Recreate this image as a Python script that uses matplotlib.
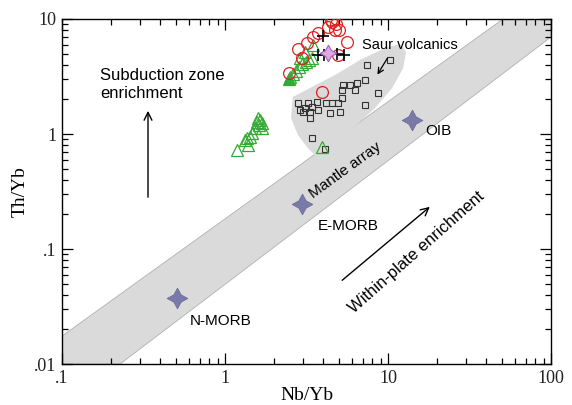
import matplotlib
matplotlib.use("Agg")
import matplotlib.pyplot as plt
from matplotlib.patches import Polygon

# ---------------- data (Nb/Yb, Th/Yb) ----------------
circle_nb = [4.53, 4.80, 4.29, 5.00, 3.72, 3.47, 3.18, 5.60, 2.80, 2.97, 2.47, 3.94, 4.94, 4.47, 4.73]
circle_th = [9.42, 9.05, 8.52, 8.02, 7.55, 6.97, 6.18, 6.31, 5.48, 4.58, 3.39, 2.32, 4.86, 9.80, 8.02]

tri_nb = [1.19, 1.33, 1.38, 1.42, 1.47, 1.53, 1.57, 1.59, 1.62, 1.64, 1.69, 1.69, 1.36,
          2.50, 2.61, 2.73, 2.84, 2.97, 3.14, 3.28, 2.88, 3.42, 3.10, 3.47, 3.94]
tri_th = [0.73, 0.89, 0.80, 0.94, 1.02, 1.13, 1.27, 1.38, 1.20, 1.32, 1.25, 1.13, 0.92,
          3.13, 3.32, 3.53, 3.83, 4.06, 4.23, 4.40, 4.58, 4.58, 5.16, 5.94, 0.77]
tri_fill_nb = [2.47]
tri_fill_th = [3.01]

sq_nb = [7.43, 10.3, 5.30, 5.85, 6.46, 7.23, 5.22, 6.28, 8.69, 7.23, 2.80, 3.23, 3.67, 4.17,
         4.53, 4.94, 5.22, 3.10, 3.42, 3.01, 3.32, 4.41, 5.08, 3.32, 3.42, 4.11, 2.88, 3.72]
sq_th = [3.98, 4.40, 2.67, 2.67, 2.78, 2.95, 2.41, 2.41, 2.27, 1.79, 1.86, 1.86, 1.90, 1.86,
         1.86, 1.86, 2.06, 1.68, 1.72, 1.55, 1.55, 1.52, 1.55, 1.38, 0.92, 0.74, 1.62, 1.62]

plus_nb = [3.99, 3.72, 4.05, 4.87, 5.37]
plus_th = [7.11, 4.86, 4.86, 4.96, 4.86]

pink_nb = [4.29]
pink_th = [5.06]

ref_names = ["N-MORB", "E-MORB", "OIB"]
ref_nb = [0.508, 2.97, 14.0]
ref_th = [0.0375, 0.246, 1.32]

# mantle array band and Saur volcanics field outlines
band_nb = [0.1, 0.227, 100, 100, 50.8, 0.1]
band_th = [0.01, 0.01, 6.97, 10, 10, 0.0175]

field_nb = [2.61, 3.32, 4.73, 6.73, 9.59, 11.9, 12.9, 12.4, 10.6, 8.32, 6.28, 4.94, 4.23, 3.72, 3.23, 2.80, 2.54]
field_th = [2.10, 2.51, 3.26, 4.40, 5.59, 6.06, 5.16, 3.75, 2.51, 1.68, 1.17, 0.85, 0.63, 0.62, 0.75, 0.98, 1.38]

xticks = [0.1, 1, 10, 100]
xtick_labels = [".1", "1", "10", "100"]
yticks = [0.01, 0.1, 1, 10]
ytick_labels = [".01", ".1", "1", "10"]

# ---------------- plot ----------------
fig = plt.figure(figsize=(5.72, 4.05), dpi=100)
ax = fig.add_axes([0.1084, 0.1012, 0.8549, 0.8519])
ax.set_xscale("log")
ax.set_yscale("log")
ax.set_xlim(0.1, 100)
ax.set_ylim(0.01, 10)

gray = "#dadada"
ax.add_patch(Polygon(list(zip(band_nb, band_th)), closed=True, facecolor=gray,
                     edgecolor="#b0b0b0", lw=0.6, zorder=1))
ax.add_patch(Polygon(list(zip(field_nb, field_th)), closed=True, facecolor=gray,
                     edgecolor="none", zorder=1))

ax.plot(sq_nb, sq_th, "s", ms=5, mfc="none", mec="#333333", mew=0.8, zorder=3)
ax.plot(tri_nb, tri_th, "^", ms=8.5, mfc="none", mec="#33aa33", mew=0.9, zorder=3)
ax.plot(tri_fill_nb, tri_fill_th, "^", ms=8.5, mfc="#33aa33", mec="#33aa33", mew=0.9, zorder=3)
ax.plot(circle_nb, circle_th, "o", ms=8.5, mfc="none", mec="#e02020", mew=0.9, zorder=4)
ax.plot(plus_nb, plus_th, "+", ms=9, mec="black", mew=1.2, zorder=5)
ax.plot(pink_nb, pink_th, marker=(4, 1, 0), ms=12, mfc="#e0a8e0", mec="#a060c0", mew=0.8,
        ls="none", zorder=5)
ax.plot(ref_nb, ref_th, marker=(4, 1, 0), ms=15, mfc="#7a7aa8", mec="#6a6a98", mew=0.5,
        ls="none", zorder=5)

# labels / annotations
sans = "Liberation Sans"
ax.text(6.92, 5.94, "Saur volcanics", ha="left", va="center", fontsize=10.5, family=sans)
ax.annotate("", xy=(8.44, 3.13), xytext=(10.1, 4.77),
            arrowprops=dict(arrowstyle="->", color="black", lw=0.9))
ax.text(0.171, 2.67, "Subduction zone\nenrichment", ha="left", va="center",
        linespacing=1.25, fontsize=12, family=sans)
ax.annotate("", xy=(0.337, 1.68), xytext=(0.337, 0.267),
            arrowprops=dict(arrowstyle="->", color="black", lw=1.0,
                            mutation_scale=14))
ax.text(5.45, 0.486, "Mantle array", rotation=36, ha="center", va="center",
        fontsize=11, family=sans)
ax.text(16.9, 1.06, "OIB", ha="left", va="center", fontsize=11, family=sans)
ax.text(3.72, 0.158, "E-MORB", ha="left", va="center", fontsize=11, family=sans)
ax.text(0.61, 0.0237, "N-MORB", ha="left", va="center", fontsize=11, family=sans)
ax.text(14.9, 0.094, "Within-plate enrichment", rotation=41.5, ha="center", va="center",
        fontsize=12, family=sans)
ax.annotate("", xy=(18.6, 0.241), xytext=(5.08, 0.0516),
            arrowprops=dict(arrowstyle="->", color="black", lw=1.0,
                            mutation_scale=14))

# axes
ax.set_xticks(xticks)
ax.set_xticklabels(xtick_labels)
ax.set_yticks(yticks)
ax.set_yticklabels(ytick_labels)
ax.tick_params(which="both", direction="in", top=True, right=True, width=0.9, colors="black")
ax.tick_params(which="major", length=8, labelsize=13, pad=4)
ax.tick_params(which="minor", length=4.5)
for lab in ax.get_xticklabels() + ax.get_yticklabels():
    lab.set_family("Liberation Serif")
    lab.set_color("#222222")
for s in ax.spines.values():
    s.set_linewidth(1.0)

ax.set_xlabel("Nb/Yb", family="Liberation Serif", fontsize=14, labelpad=0)
ax.set_ylabel("Th/Yb", family="Liberation Serif", fontsize=14, labelpad=4)

fig.savefig("out.png", dpi=100)
